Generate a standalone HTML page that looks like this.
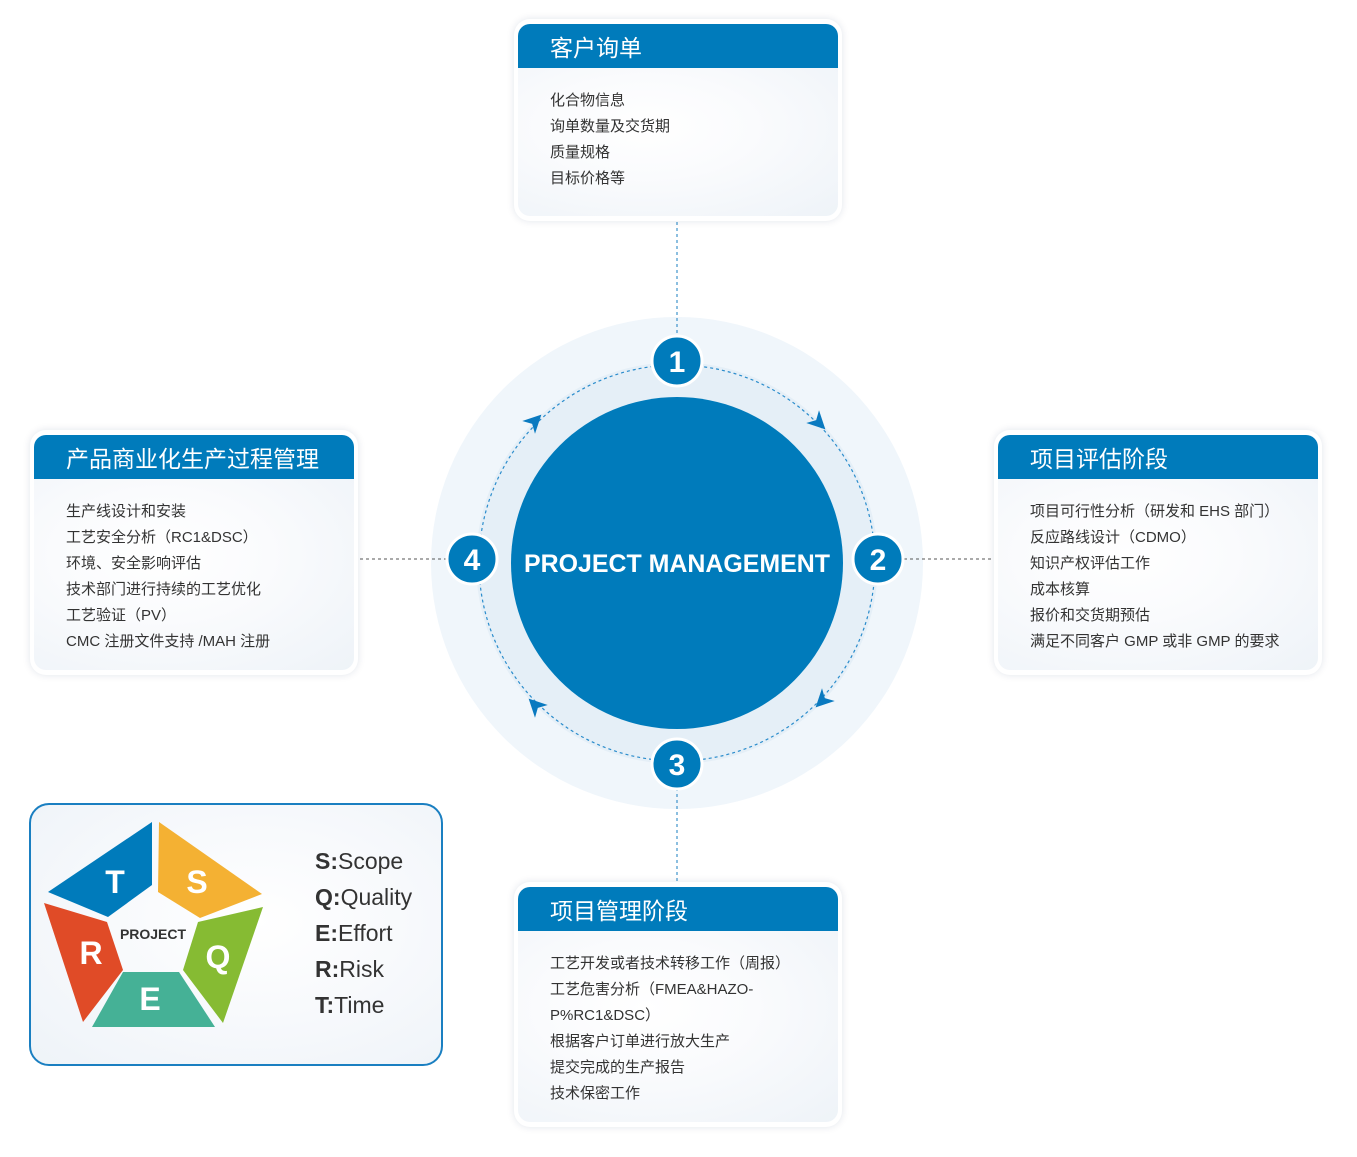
<!DOCTYPE html>
<html><head><meta charset="utf-8"><style>
body{margin:0;width:1357px;height:1157px;background:#fff;position:relative;font-family:"Liberation Sans","Noto Sans CJK SC",sans-serif;overflow:hidden}
.box{position:absolute;background:#fff;border-radius:16px;box-shadow:0 0 8px rgba(0,40,90,.12)}
.hd{position:absolute;left:4px;right:4px;top:5px;height:44px;background:#007bbb;border-radius:12px 12px 0 0;color:#fff;font-size:23px;line-height:48px;padding-left:32px}
.bd{position:absolute;left:4px;right:4px;top:49px;bottom:5px;border-radius:0 0 12px 12px;background:radial-gradient(ellipse at 40% 40%,#fff 0%,#fafbfd 40%,#eef3f8 100%);padding:20px 0 0 32px;font-size:15px;line-height:26px;color:#333}
svg{position:absolute;left:0;top:0}
</style></head><body>
<svg width="1357" height="1157">
<circle cx="677" cy="563" r="246" fill="#f0f6fb"/>
<circle cx="677" cy="563" r="201" fill="#e5eff7"/>
<line x1="677" y1="222" x2="677" y2="340" stroke="#1a7fc1" stroke-dasharray="3,3"/>
<line x1="677" y1="788" x2="677" y2="882" stroke="#1a7fc1" stroke-dasharray="3,3"/>
<line x1="360" y1="559" x2="448" y2="559" stroke="#555" stroke-dasharray="3,3"/>
<line x1="904" y1="559" x2="994" y2="559" stroke="#555" stroke-dasharray="3,3"/>
<circle cx="677" cy="563" r="198" fill="none" stroke="#2a8ccc" stroke-width="1.2" stroke-dasharray="3,3"/>
<circle cx="677" cy="563" r="166" fill="#007bbb"/>
<text x="677" y="572" text-anchor="middle" font-size="25" font-weight="bold" fill="#fff" textLength="306" lengthAdjust="spacingAndGlyphs" font-family="Liberation Sans,sans-serif">PROJECT MANAGEMENT</text>
<g fill="#0a7ac0">
<path transform="translate(819,423) rotate(45)" d="M9,0 L-9,-9 L-4,0 L-9,9Z"/>
<path transform="translate(822,701) rotate(135)" d="M9,0 L-9,-9 L-4,0 L-9,9Z"/>
<path transform="translate(535,705) rotate(225)" d="M9,0 L-9,-9 L-4,0 L-9,9Z"/>
<path transform="translate(535,421) rotate(315)" d="M9,0 L-9,-9 L-4,0 L-9,9Z"/>
</g>
<g font-size="30" font-weight="bold" fill="#fff" text-anchor="middle" font-family="Liberation Sans,sans-serif">
<circle cx="677" cy="361" r="25" fill="#007bbb" stroke="#fff" stroke-width="3"/><text x="677" y="372">1</text>
<circle cx="878" cy="559" r="25" fill="#007bbb" stroke="#fff" stroke-width="3"/><text x="878" y="570">2</text>
<circle cx="677" cy="764" r="25" fill="#007bbb" stroke="#fff" stroke-width="3"/><text x="677" y="775">3</text>
<circle cx="472" cy="559" r="25" fill="#007bbb" stroke="#fff" stroke-width="3"/><text x="472" y="570">4</text>
</g>
</svg>

<div class="box" style="left:514px;top:19px;width:328px;height:202px"><div class="hd">客户询单</div><div class="bd">化合物信息<br>询单数量及交货期<br>质量规格<br>目标价格等</div></div>
<div class="box" style="left:30px;top:430px;width:328px;height:245px"><div class="hd">产品商业化生产过程管理</div><div class="bd">生产线设计和安装<br>工艺安全分析（RC1&amp;DSC）<br>环境、安全影响评估<br>技术部门进行持续的工艺优化<br>工艺验证（PV）<br>CMC 注册文件支持 /MAH 注册</div></div>
<div class="box" style="left:994px;top:430px;width:328px;height:245px"><div class="hd">项目评估阶段</div><div class="bd">项目可行性分析（研发和 EHS 部门）<br>反应路线设计（CDMO）<br>知识产权评估工作<br>成本核算<br>报价和交货期预估<br>满足不同客户 GMP 或非 GMP 的要求</div></div>
<div class="box" style="left:514px;top:882px;width:328px;height:245px"><div class="hd">项目管理阶段</div><div class="bd">工艺开发或者技术转移工作（周报）<br>工艺危害分析（FMEA&amp;HAZO-<br>P%RC1&amp;DSC）<br>根据客户订单进行放大生产<br>提交完成的生产报告<br>技术保密工作</div></div>

<div style="position:absolute;left:29px;top:803px;width:410px;height:259px;border:2px solid #1a7fc1;border-radius:20px;background:radial-gradient(ellipse at 55% 45%,#fff 0%,#f7f9fc 50%,#eef3f8 100%)"></div>
<svg width="1357" height="1157">
<polygon points="48,892 152,822 152,885 108,917" fill="#007bbb"/>
<polygon points="159,822 262,894 200,918 158,892" fill="#f4b133"/>
<polygon points="263,907 223,1023 183,970 198,922" fill="#86bb33"/>
<polygon points="123,972 179,972 215,1027 92,1027" fill="#45b196"/>
<polygon points="44,903 107,922 123,970 83,1022" fill="#e04b27"/>
<g fill="#fff" font-weight="bold" font-size="32" text-anchor="middle" font-family="Liberation Sans,sans-serif">
<text x="115" y="893">T</text><text x="197" y="893">S</text><text x="218" y="968">Q</text><text x="150" y="1010">E</text><text x="91" y="964">R</text></g>
<text x="153" y="939" text-anchor="middle" font-size="14" font-weight="bold" fill="#333" font-family="Liberation Sans,sans-serif">PROJECT</text>
<g font-size="23" fill="#333" font-family="Liberation Sans,sans-serif">
<text x="315" y="869"><tspan font-weight="bold">S:</tspan>Scope</text>
<text x="315" y="905"><tspan font-weight="bold">Q:</tspan>Quality</text>
<text x="315" y="941"><tspan font-weight="bold">E:</tspan>Effort</text>
<text x="315" y="977"><tspan font-weight="bold">R:</tspan>Risk</text>
<text x="315" y="1013"><tspan font-weight="bold">T:</tspan>Time</text>
</g>
</svg>
</body></html>
